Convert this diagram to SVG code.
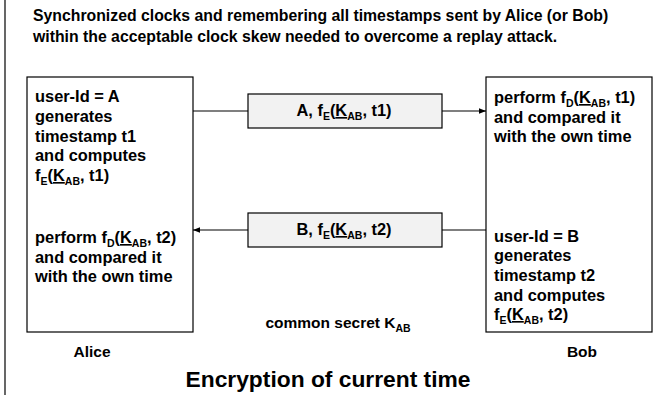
<svg xmlns="http://www.w3.org/2000/svg" width="654" height="395" viewBox="0 0 654 395">
<defs>
<style>
text{font-family:"Liberation Sans",Arial,sans-serif;font-weight:bold;fill:#000}
.t{font-size:15.8px}
.b{font-size:16.4px}
.c{font-size:15.5px}
.s{font-size:10.5px}
.u{text-decoration:underline}
.box{fill:#fff;stroke:#000;stroke-width:1.2}
.msg{fill:#f2f2f2;stroke:#000;stroke-width:1.2}
.ln{stroke:#000;stroke-width:1.2;fill:none}
</style>
<marker id="ah" viewBox="0 0 10 10" refX="10" refY="5" markerWidth="7" markerHeight="7" markerUnits="userSpaceOnUse" orient="auto">
<path d="M0,1 L10,5 L0,9 z" fill="#000"/>
</marker>
</defs>
<rect width="654" height="395" fill="#fff"/>
<line x1="5" y1="0" x2="5" y2="395" class="ln"/>
<g id="title">
<text class="t" x="33" y="21">Synchronized clocks and remembering all timestamps sent by Alice (or Bob)</text>
<text class="t" x="33" y="42">within the acceptable clock skew needed to overcome a replay attack.</text>
</g>
<g id="alice">
<rect class="box" x="27" y="77" width="166" height="255"/>
<text class="b" x="35" y="102">user-Id = A</text>
<text class="b" x="35" y="122">generates</text>
<text class="b" x="35" y="141.5">timestamp t1</text>
<text class="b" x="35" y="161">and computes</text>
<text class="b" x="35" y="181">f<tspan class="s" dy="4">E</tspan><tspan dy="-4">(</tspan><tspan class="u">K</tspan><tspan class="s" dy="4">AB</tspan><tspan dy="-4">, t1)</tspan></text>
<text class="b" x="35" y="243">perform f<tspan class="s" dy="4">D</tspan><tspan dy="-4">(</tspan><tspan class="u">K</tspan><tspan class="s" dy="4">AB</tspan><tspan dy="-4">, t2)</tspan></text>
<text class="b" x="35" y="262.5">and compared it</text>
<text class="b" x="35" y="282">with the own time</text>
<text class="c" x="92" y="357" text-anchor="middle">Alice</text>
</g>
<g id="bob">
<rect class="box" x="486" y="77" width="166" height="255"/>
<text class="b" x="494" y="103">perform f<tspan class="s" dy="4">D</tspan><tspan dy="-4">(</tspan><tspan class="u">K</tspan><tspan class="s" dy="4">AB</tspan><tspan dy="-4">, t1)</tspan></text>
<text class="b" x="494" y="122.5">and compared it</text>
<text class="b" x="494" y="142">with the own time</text>
<text class="b" x="494" y="241.5">user-Id = B</text>
<text class="b" x="494" y="261">generates</text>
<text class="b" x="494" y="281">timestamp t2</text>
<text class="b" x="494" y="300.5">and computes</text>
<text class="b" x="494" y="320">f<tspan class="s" dy="4">E</tspan><tspan dy="-4">(</tspan><tspan class="u">K</tspan><tspan class="s" dy="4">AB</tspan><tspan dy="-4">, t2)</tspan></text>
<text class="c" x="582" y="357" text-anchor="middle">Bob</text>
</g>
<g id="msg1">
<rect class="msg" x="248" y="94" width="194" height="34"/>
<text class="b" x="344" y="116" text-anchor="middle">A, f<tspan class="s" dy="4">E</tspan><tspan dy="-4">(</tspan><tspan class="u">K</tspan><tspan class="s" dy="4">AB</tspan><tspan dy="-4">, t1)</tspan></text>
</g>
<g id="msg2">
<rect class="msg" x="248" y="213" width="194" height="34"/>
<text class="b" x="344" y="235" text-anchor="middle">B, f<tspan class="s" dy="4">E</tspan><tspan dy="-4">(</tspan><tspan class="u">K</tspan><tspan class="s" dy="4">AB</tspan><tspan dy="-4">, t2)</tspan></text>
</g>
<g id="connectors">
<line class="ln" x1="193" y1="111" x2="248" y2="111"/>
<line class="ln" x1="442" y1="111" x2="486" y2="111" marker-end="url(#ah)"/>
<line class="ln" x1="486" y1="230" x2="442" y2="230"/>
<line class="ln" x1="248" y1="230" x2="193" y2="230" marker-end="url(#ah)"/>
</g>
<g id="labels">
<text class="c" x="338" y="328" text-anchor="middle">common secret K<tspan class="s" dy="4">AB</tspan></text>
<text x="328" y="387" text-anchor="middle" font-size="22.8px">Encryption of current time</text>
</g>
</svg>
